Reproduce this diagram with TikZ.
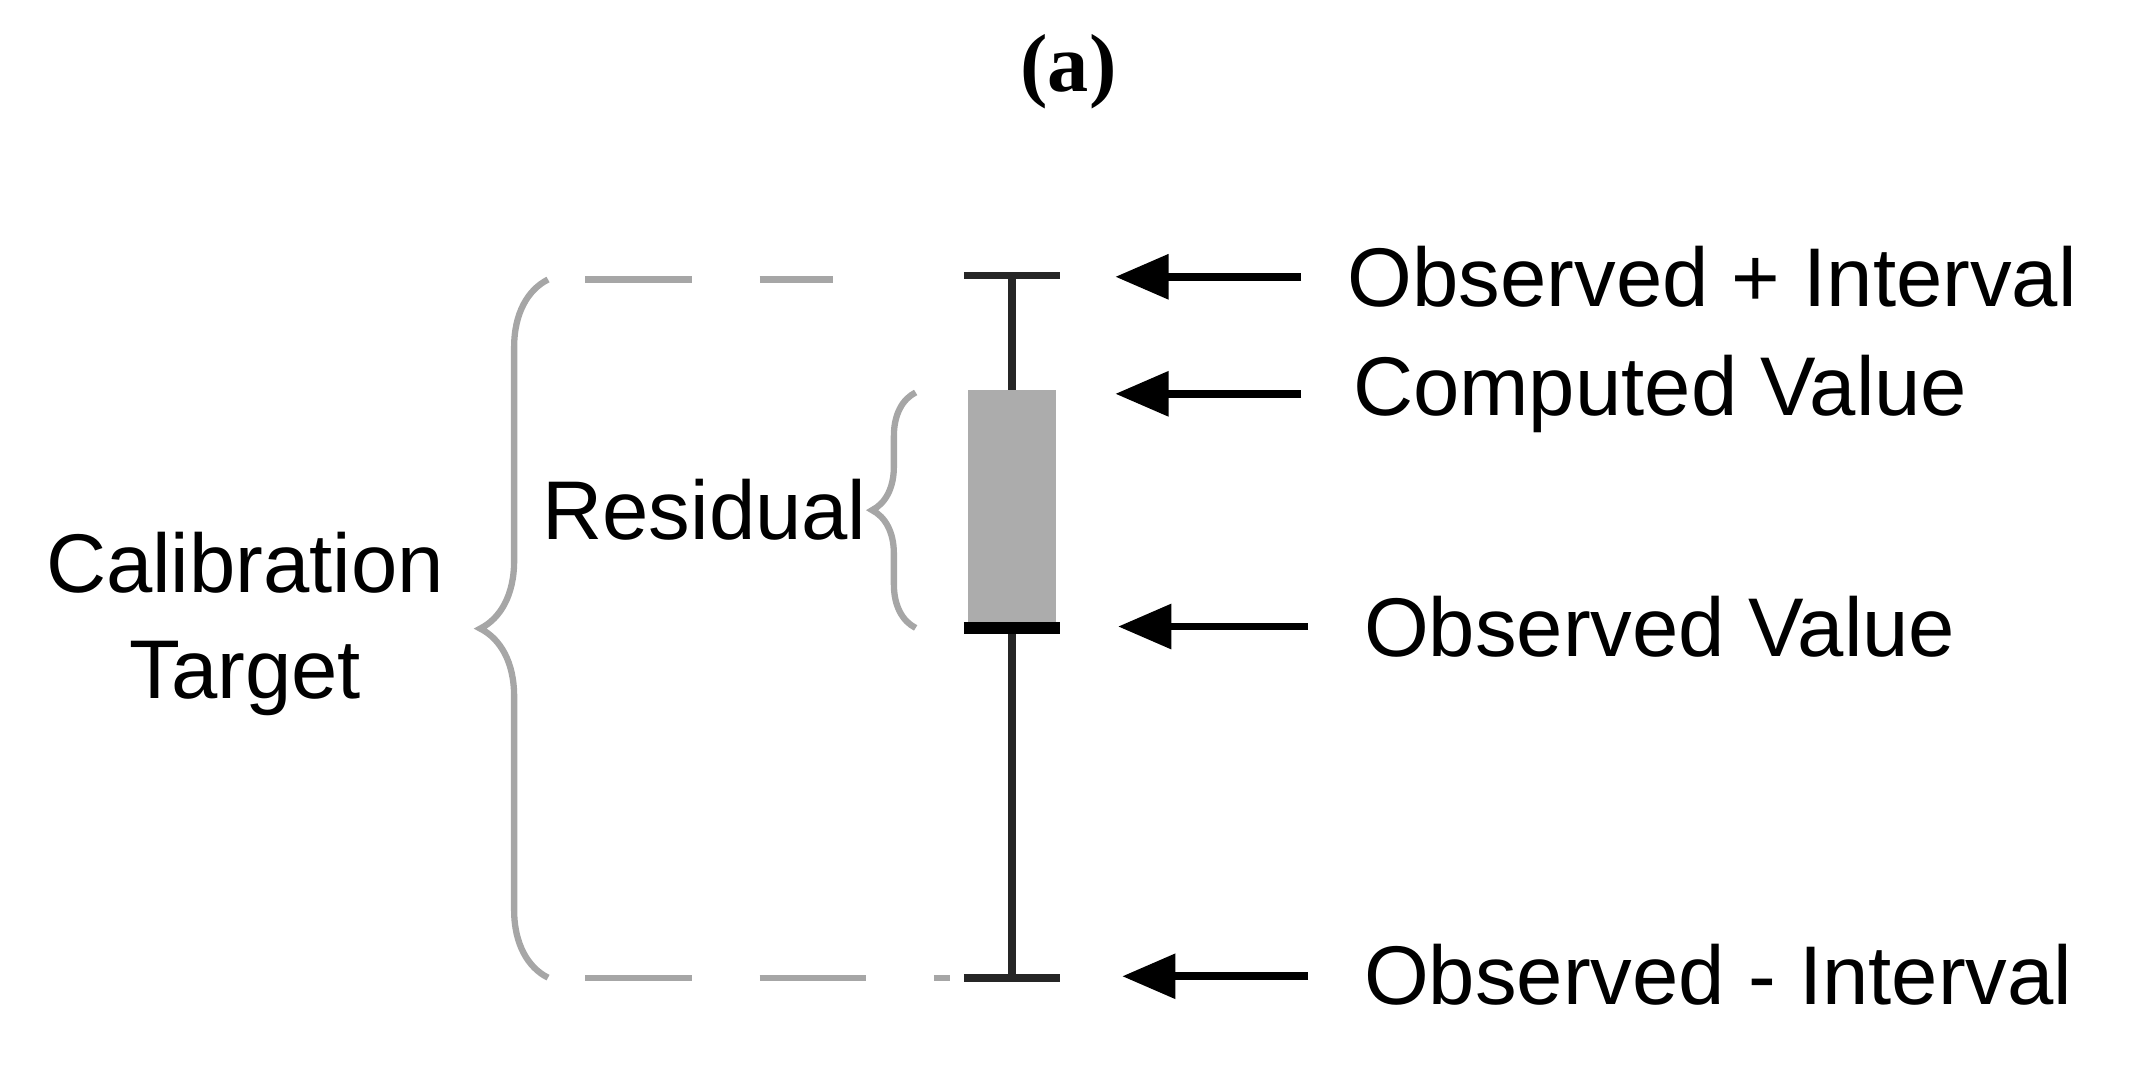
\documentclass[tikz,border=0pt]{standalone}
\usepackage{fontspec}
\setmainfont{Liberation Sans}
\newfontfamily\serifb{Liberation Serif}
\usetikzlibrary{decorations.pathreplacing,arrows.meta}
\begin{document}
\begin{tikzpicture}[x=0.01cm,y=-0.01cm,
  lbl/.style={font=\fontsize{17.2}{20}\selectfont,anchor=west,inner sep=0},
  arr/.style={line width=1.6pt,-{Triangle[length=11pt,width=9pt]}},
  bar/.style={line width=1.6pt,black!85},
  gr/.style={gray!70,line width=1.3pt}]
\useasboundingbox (0,0) rectangle (1552,781);
\node[font=\serifb\bfseries\fontsize{17}{20}\selectfont] (ta) at (776,52) {(a)};
\coordinate (top) at (735,200);
\coordinate (bot) at (735,710);
\draw[bar] (top) -- (bot);
\draw[bar] (700,200) -- (770,200);
\draw[bar] (700,710) -- (770,710);
\fill[gray!65] (703,283) rectangle (767,456);
\draw[black,line width=2.6pt] (700,456) -- (770,456);
% dashed
\draw[gr,dash pattern=on 22pt off 14pt] (425,203) -- (605,203);
\draw[gr,dash pattern=on 22pt off 14pt] (425,710) -- (690,710);
% braces
\draw[gr,decorate,decoration={brace,amplitude=14pt}] (398,710) -- (398,203);
\draw[gr,decorate,decoration={brace,amplitude=9pt}] (665,456) -- (665,285);
\node[lbl,anchor=east] (res) at (630,370) {Residual};
\node[font=\fontsize{17.2}{22}\selectfont,align=center] (cal) at (178,453) {Calibration\\Target};
\node[lbl] (l1) at (978,201) {Observed + Interval};
\node[lbl] (l2) at (982,286) {Computed Value};
\node[lbl] (l3) at (990,455) {Observed Value};
\node[lbl] (l4) at (990,708) {Observed - Interval};
\coordinate (a1) at (810,201);
\coordinate (a2) at (810,286);
\coordinate (a3) at (812,455);
\coordinate (a4) at (815,709);
\draw[arr] (945,201) -- (a1);
\draw[arr] (945,286) -- (a2);
\draw[arr] (950,455) -- (a3);
\draw[arr] (950,709) -- (a4);
\end{tikzpicture}
\end{document}
